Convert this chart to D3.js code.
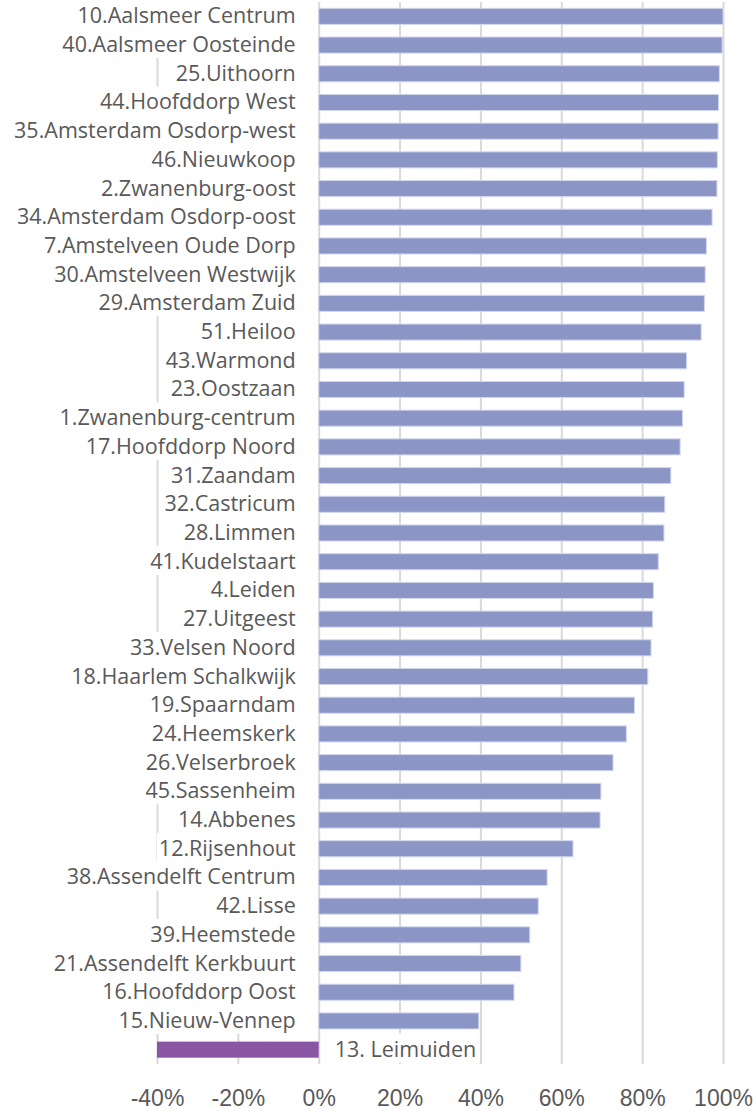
<!doctype html>
<html>
<head>
    <meta charset="utf-8">
    <title>Leimuiden vergeleken</title>
    <script src="https://d3js.org/d3.v7.min.js"></script>
</head>
<body>

<svg class="barchart"></svg>

<script>
    var names = [
        "10.Aalsmeer Centrum", "40.Aalsmeer Oosteinde", "25.Uithoorn", "44.Hoofddorp West",
        "35.Amsterdam Osdorp-west", "46.Nieuwkoop", "2.Zwanenburg-oost", "34.Amsterdam Osdorp-oost",
        "7.Amstelveen Oude Dorp", "30.Amstelveen Westwijk", "29.Amsterdam Zuid", "51.Heiloo",
        "43.Warmond", "23.Oostzaan", "1.Zwanenburg-centrum", "17.Hoofddorp Noord",
        "31.Zaandam", "32.Castricum", "28.Limmen", "41.Kudelstaart",
        "4.Leiden", "27.Uitgeest", "33.Velsen Noord", "18.Haarlem Schalkwijk",
        "19.Spaarndam", "24.Heemskerk", "26.Velserbroek", "45.Sassenheim",
        "14.Abbenes", "12.Rijsenhout", "38.Assendelft Centrum", "42.Lisse",
        "39.Heemstede", "21.Assendelft Kerkbuurt", "16.Hoofddorp Oost", "15.Nieuw-Vennep",
        "13. Leimuiden"
    ];

    // percentages
    var values = [
        100, 99.8, 99.1, 98.9,
        98.8, 98.6, 98.5, 97.3,
        95.9, 95.6, 95.4, 94.6,
        91.0, 90.4, 90.0, 89.4,
        87.1, 85.6, 85.4, 84.0,
        82.8, 82.6, 82.2, 81.4,
        78.1, 76.1, 72.8, 69.8,
        69.6, 62.9, 56.5, 54.3,
        52.2, 50.0, 48.3, 39.6,
        -40
    ];

    var tickValues = [-40, -20, 0, 20, 40, 60, 80, 100];

    var chartWidth = 753,
        chartHeight = 1111,
        margin = {top: 2, right: 30, bottom: 47, left: 157};

    var data = names.map((name, i) => ({name: name, value: values[i]}));

    var x = d3.scaleLinear()
        .domain([-40, 100])
        .range([margin.left, chartWidth - margin.right]);

    var y = d3.scaleBand()
        .domain(names)
        .range([margin.top, chartHeight - margin.bottom])
        .paddingInner(0.44)
        .paddingOuter(0.22);

    var svg = d3.select(".barchart")
        .attr("width", chartWidth)
        .attr("height", chartHeight)
        .style("font-family", "'Open Sans', sans-serif");

    // gridlines + tick labels
    var axis = svg.append("g")
        .attr("transform", `translate(0, ${chartHeight - margin.bottom})`)
        .call(d3.axisBottom(x)
            .tickValues(tickValues)
            .tickFormat(d => d + "%")
            .tickSize(-(chartHeight - margin.bottom - margin.top))
            .tickPadding(26));
    axis.select(".domain").remove();
    axis.selectAll(".tick line")
        .attr("stroke", "#d9d9d9")
        .attr("stroke-width", 2);
    axis.selectAll(".tick text")
        .attr("fill", "#595959")
        .style("font-size", "23px");

    var labelBg = svg.append("g");

    var bar = svg.append("g")
        .selectAll("rect")
        .data(data)
        .enter()
        .append("rect")
        .attr("x", d => x(Math.min(0, d.value)))
        .attr("y", d => y(d.name))
        .attr("width", d => Math.abs(x(d.value) - x(0)))
        .attr("height", y.bandwidth())
        .attr("fill", d => d.value < 0 ? "#8a55a3" : "#8b96c6")
        .attr("stroke", d => d.value < 0 ? "none" : "#d3d7ec")
        .attr("stroke-width", 1);

    var label = svg.append("g")
        .selectAll("text")
        .data(data)
        .enter()
        .append("text")
        .attr("x", d => d.value < 0 ? x(0) + 16 : x(0) - 23)
        .attr("y", d => y(d.name) + y.bandwidth() / 2 + 7)
        .attr("text-anchor", d => d.value < 0 ? "start" : "end")
        .attr("fill", "#595959")
        .style("font-size", "21.5px")
        .text(d => d.name);

    // white boxes behind the labels hide the gridlines there
    label.each(function(d) {
        var b = this.getBBox();
        var cy = y(d.name) + y.bandwidth() / 2;
        labelBg.append("rect")
            .attr("x", b.x - 2)
            .attr("y", cy - 16)
            .attr("width", b.width + 4)
            .attr("height", 29)
            .attr("fill", "white");
    });
</script>

<style>
body { margin: 0; background: white; }
</style>

</body>
</html>
